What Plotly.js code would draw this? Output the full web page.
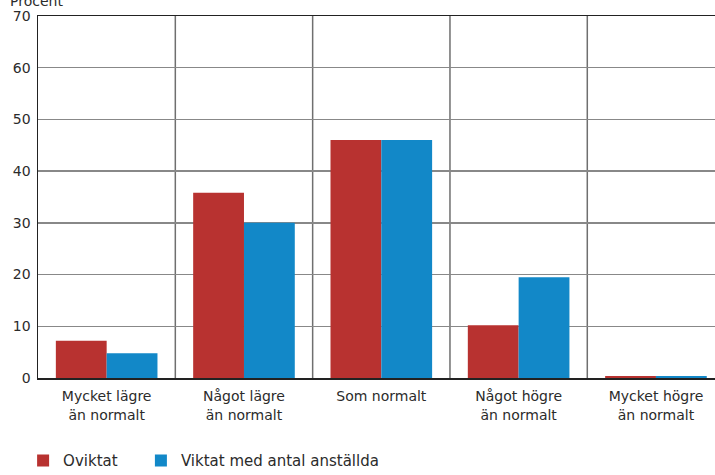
<!DOCTYPE html>
<html>
<head>
<meta charset="utf-8">
<script src="https://cdn.plot.ly/plotly-3.0.1.min.js"></script>
<style>html,body{margin:0;padding:0;background:#fff;}#chart{width:715px;height:475px;}</style>
</head>
<body>
<div id="chart"></div>
<script>
const categories = ["Mycket lägre<br>än normalt", "Något lägre<br>än normalt", "Som normalt", "Något högre<br>än normalt", "Mycket högre<br>än normalt"];
const oviktat = [7.2, 35.8, 46.0, 10.2, 0.4];
const viktat = [4.8, 30.0, 46.0, 19.5, 0.4];
const seriesNames = ["Oviktat", "Viktat med antal anställda"];
const yTicks = [0, 10, 20, 30, 40, 50, 60, 70];

const FONT = "'DejaVu Sans', sans-serif";
const TXT = "#2b2b2b";
const traces = [
  {type: "bar", x: categories, y: oviktat, name: seriesNames[0], marker: {color: "#B83230"}, legend: "legend"},
  {type: "bar", x: categories, y: viktat, name: seriesNames[1], marker: {color: "#1288C8"}, legend: "legend2"}
];

const shapes = [];
for (let i = 1; i < categories.length; i++) {
  shapes.push({type: "line", xref: "x", yref: "paper", x0: i - 0.5, x1: i - 0.5, y0: 0, y1: 1,
    line: {color: "#6f6f6f", width: 1.5}, layer: "below"});
}

const legendBase = {orientation: "h", xanchor: "left", yref: "container", y: 0.065, yanchor: "top",
  font: {family: FONT, size: 15, color: TXT}, itemwidth: 30, bgcolor: "rgba(0,0,0,0)"};

const layout = {
  width: 715, height: 475,
  margin: {l: 38, r: 0, t: 16, b: 97, autoexpand: false},
  paper_bgcolor: "#fff", plot_bgcolor: "#fff",
  font: {family: FONT, size: 14, color: TXT},
  barmode: "group", bargap: 0.26, bargroupgap: 0,
  showlegend: true,
  legend: Object.assign({}, legendBase, {x: -0.022}),
  legend2: Object.assign({}, legendBase, {x: 0.152}),
  xaxis: {type: "category", range: [-0.5, 4.43], showgrid: false, showline: true, linecolor: "#222", linewidth: 1.5,
    mirror: true, ticks: "", ticklabelstandoff: 5, tickfont: {family: FONT, size: 14, color: TXT}, fixedrange: true},
  yaxis: {range: [0, 70], tickvals: yTicks, showgrid: true, gridcolor: "#888", gridwidth: 1.5,
    showline: true, linecolor: "#222", linewidth: 1.5, ticks: "", zeroline: false, ticklabelstandoff: 3,
    tickfont: {family: FONT, size: 14, color: TXT}, fixedrange: true},
  shapes: shapes,
  annotations: [{text: "Procent", xref: "paper", yref: "paper", x: 0, y: 1, xanchor: "left", yanchor: "bottom",
    xshift: -30, yshift: 5, showarrow: false, font: {family: FONT, size: 14, color: TXT}}]
};

Plotly.newPlot("chart", traces, layout, {displayModeBar: false, staticPlot: true});
</script>
</body>
</html>
